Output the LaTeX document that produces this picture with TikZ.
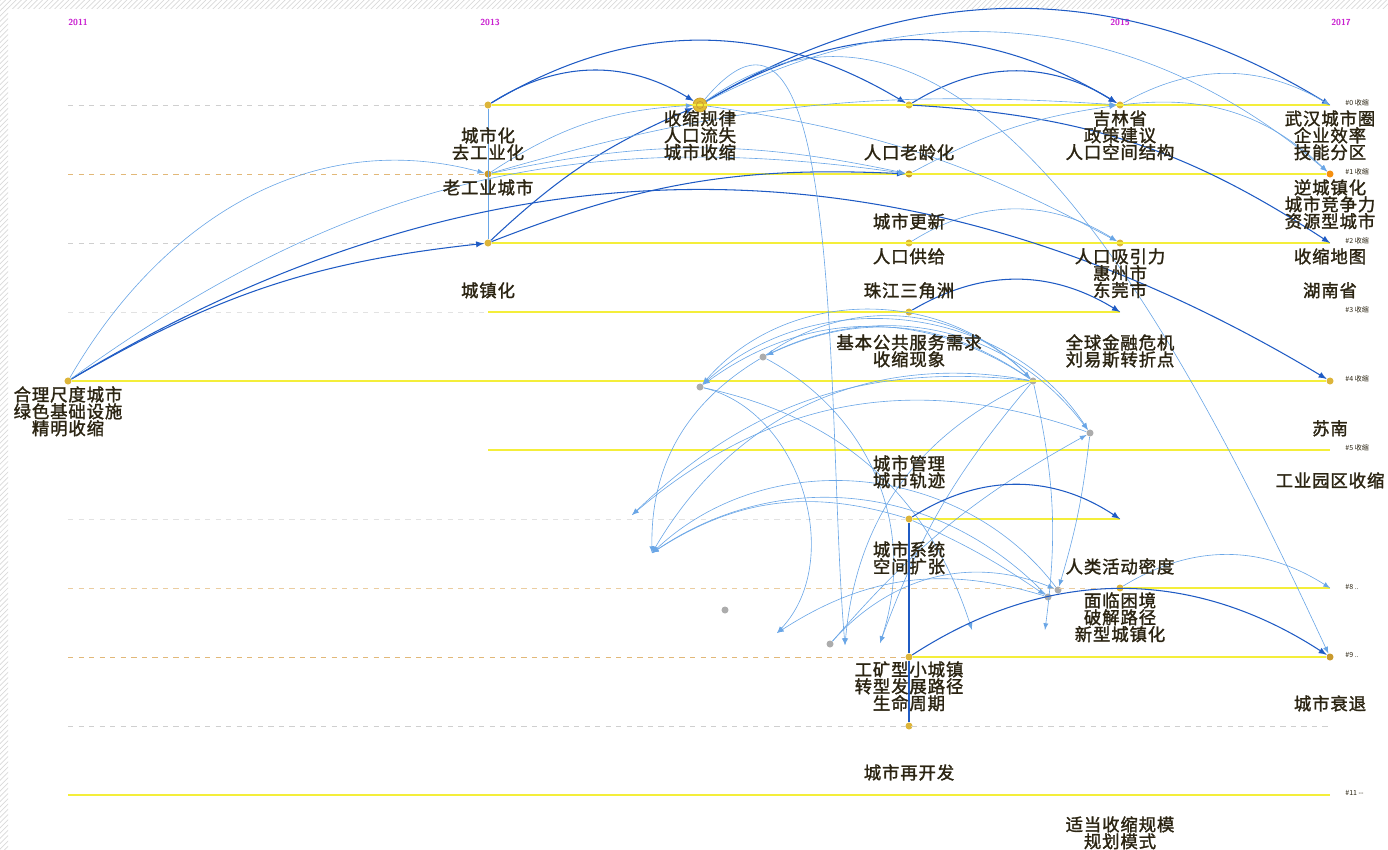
\documentclass[tikz,border=0pt]{standalone}
\usepackage{fontspec}
\newfontfamily\cjk[FakeBold=1.6,LetterSpace=5]{Noto Sans CJK SC}
\newfontfamily\cjktag{Noto Sans CJK SC}
\newcommand\labfont{\cjk\fontsize{9.9}{9.6}\selectfont\lineskiplimit=-20pt\relax}
\usetikzlibrary{patterns}
\definecolor{darkarc}{HTML}{1F5BC4}
\definecolor{lightarc}{HTML}{6AA6E6}
\definecolor{gold}{HTML}{DDB53A}
\definecolor{deepgold}{HTML}{C99A2E}
\definecolor{lineyel}{HTML}{F4EE3A}
\definecolor{txtbrown}{HTML}{2B2412}
\definecolor{yearmag}{HTML}{C81ECF}
\definecolor{dashgray}{HTML}{CFCFCF}
\definecolor{dashorange}{HTML}{E2B878}
\begin{document}
\begin{tikzpicture}[x=0.02cm,y=-0.02cm,>=latex,
    dot/.style={circle,fill=gold,inner sep=0pt,minimum size=4pt},
    gdot/.style={circle,fill=gray!65,inner sep=0pt,minimum size=4pt},
    bigdot/.style={circle,fill=gold!90!yellow,draw=deepgold,line width=0.4pt,inner sep=0pt,minimum size=8pt},
    lab/.style={font=\labfont,text=txtbrown,align=center,inner sep=0pt,anchor=north},
    year/.style={font=\sffamily\bfseries\fontsize{5}{6}\selectfont,text=yearmag,inner sep=0pt},
    clu/.style={font=\cjktag\fontsize{4}{5}\selectfont,text=txtbrown,inner sep=0pt,anchor=west},
    yl/.style={lineyel,line width=1.1pt},
    dg/.style={dashgray,dashed,line width=0.4pt},
    dor/.style={dashorange,dashed,line width=0.4pt},
    da/.style={darkarc,line width=0.6pt},
    la/.style={lightarc,line width=0.35pt}]

\useasboundingbox (0,0) rectangle (1388,849);

%% hatched border
\fill[pattern=north east lines,pattern color=gray!30] (0,0) rectangle (1388,8);
\fill[pattern=north east lines,pattern color=gray!30] (0,8) rectangle (8,849);

%% years
\node[year] (y11) at (78,22) {2011};
\node[year] (y13) at (490,22) {2013};
\node[year] (y15) at (1120,22) {2015};
\node[year] (y17) at (1341,22) {2017};

%% row ends
\foreach \r/\y in {0/105,1/174,2/243,3/312,4/381,5/450,6/519,7/588,8/657,9/726,10/795}{
    \coordinate (l\r) at (68,\y);
    \coordinate (r\r) at (1330,\y);
}
\coordinate (m3) at (488,312);
\coordinate (m5) at (488,450);

%% nodes
\node[dot] (n0b) at (488,105) {};
\node[bigdot] (n0c) at (700,105) {};
\node[dot] (n0d) at (909,105) {};
\node[dot] (n0e) at (1120,105) {};
\node[dot,fill=deepgold] (n1b) at (488,174) {};
\node[dot,fill=deepgold] (n1d) at (909,174) {};
\node[dot,fill=orange!70!gold] (n1f) at (1330,174) {};
\node[dot] (n2b) at (488,243) {};
\node[dot] (n2d) at (909,243) {};
\node[dot] (n2e) at (1120,243) {};
\node[dot] (n3d) at (909,312) {};
\coordinate (n3e) at (1120,312);
\node[dot] (n4a) at (68,381) {};
\node[dot] (n4f) at (1330,381) {};
\node[dot] (n6d) at (909,519) {};
\coordinate (n6e) at (1120,519);
\node[dot] (n7e) at (1120,588) {};
\node[dot] (n8d) at (909,657) {};
\node[dot,fill=deepgold] (n8f) at (1330,657) {};
\node[dot] (n9d) at (909,726) {};

\node[gdot] (g1) at (700,387) {};
\node[gdot] (g2) at (763,357) {};
\node[gdot] (g3) at (1033,381) {};
\node[gdot] (g4) at (1090,433) {};
\node[gdot] (g5) at (725,610) {};
\node[gdot] (g6) at (830,644) {};
\node[gdot] (g7) at (1048,597) {};
\node[gdot] (g8) at (1058,590) {};

\coordinate (t1) at (632,515);
\coordinate (t2) at (652,553);
\coordinate (t3) at (845,645);
\coordinate (t4) at (777,633);
\coordinate (t5) at (880,643);
\coordinate (t6) at (972,630);
\coordinate (t7) at (1045,630);

%% timeline rows
\draw[dg] (l0) -- (n0b);
\draw[yl] (n0b) -- (r0);
\draw[dor] (l1) -- (n1b);
\draw[yl] (n1b) -- (n1f);
\draw[dg] (l2) -- (n2b);
\draw[yl] (n2b) -- (r2);
\draw[dg,dashgray!60] (l3) -- (m3);
\draw[yl] (m3) -- (n3e);
\draw[yl] (n4a) -- (n4f);
\draw[yl] (m5) -- (r5);
\draw[dg,dashgray!60] (l6) -- (n6d);
\draw[yl] (n6d) -- (n6e);
\draw[dor,dashorange!70] (l7) -- (n7e);
\draw[yl] (n7e) -- (r7);
\draw[dor] (l8) -- (n8d);
\draw[yl] (n8d) -- (n8f);
\draw[dg] (l9) -- (r9);
\draw[lineyel,line width=0.6pt] (l10) -- (r10);
\draw[deepgold,line width=0.4pt] (n0c) circle (2pt);

%% cluster tags
\foreach \r/\y/\t in {0/103/\#0 收缩,1/172/\#1 收缩,2/241/\#2 收缩,3/310/\#3 收缩,4/379/\#4 收缩,5/448/\#5 收缩,7/587/\#8 ..,8/655/\#9 ..,10/793/\#11 --}
    \node[clu] (c\r) at (1345,\y) {\t};

%% top arcs
\draw[da,->] (n0b) to[bend left=32] (n0c);
\draw[da,->] (n0b) to[bend left=31] (n0d);
\draw[da,->] (n0c) to[bend left=31] (n0e);
\draw[da,->] (n0c) to[bend left=31] (r0);
\draw[la,->] (n0c) to[bend left=34] (n1f);
\draw[da,->] (n0d) to[bend left=32] (n0e);
\draw[la,->] (n0e) to[bend left=30] (r0);
\draw[la,->] (n0e) to[bend left=25] (n1f);
\draw[da,->] (n0d) to[bend left=15] (r2);
\draw[la] (n0b) -- (n2b);
\draw[la,->] (n1b) to[bend left=15] (n0c);
\draw[da,->] (n2b) to[bend left=10] (n0c);
\draw[da,->] (n2b) to[bend left=12] (n1d);
\draw[la,->] (n1b) to[bend left=12] (n1d);
\draw[la,->] (n1b) to[bend left=10] (n0e);
\draw[la,->] (n1d) to[bend left=10] (n0e);
\draw[la,->] (n0c) to[bend left=10] (n2e);
\draw[la,->] (n2d) to[bend left=32] (n2e);
\draw[da,->] (n3d) to[bend left=31] (n3e);

%% left arcs
\draw[da,->] (n4a) to[bend left=12] (n2b);
\draw[da,->] (n4a) to[bend left=31] (n4f);
\draw[la,->] (n4a) to[out=60,in=165] (n1b);
\draw[la,->] (n4a) to[bend left=22] (n1d);

%% long links
\draw[la,->] (n0c) to[out=35,in=115] (n8f);
\draw[la,->] (n0c) to[out=50,in=95] (t3);

%% middle cluster
\draw[la,->] (g3) to[bend right=35] (g1);
\draw[la,->] (g3) to[bend right=48] (g1);
\draw[la,->] (g3) to[bend right=30] (g2);
\draw[la,->] (g1) to[bend left=50] (g4);
\draw[la,->] (g2) to[bend left=40] (g4);
\draw[la,->] (g2) to[bend left=40] (g3);
\draw[la,->] (g3) to[bend right=25] (t1);
\draw[la,->] (g3) to[bend right=35] (t2);
\draw[la,->] (g4) to[bend right=30] (t1);
\draw[la,->] (g1) to[bend left=60] (t4);
\draw[la,->] (g2) to[bend left=40] (t5);
\draw[la,->] (g1) to[bend left=30] (t6);
\draw[la,->] (g3) to[bend left=10] (t7);
\draw[la,->] (g3) to[bend right=30] (t3);
\draw[la,->] (g3) to[bend right=10] (t5);
\draw[la,->] (g7) to[bend right=40] (t2);
\draw[la,->] (g8) to[bend right=48] (t2);
\draw[la,->] (g7) to[bend right=25] (t4);
\draw[la,->] (g2) to[bend right=30] (t2);
\draw[la,->] (g6) to[bend left=10] (g4);
\draw[la,->] (g6) to[bend left=35] (g8);
\draw[la,->] (g4) to[bend left=5] (g8);
\draw[la,->] (n6d) to[bend left=5] (g7);
\draw[la,->] (n6d) to[bend right=25] (t2);

%% lower rows
\draw[da] (n6d) -- (n8d);
\draw[da] (n8d) -- (n9d);
\draw[da,->] (n6d) to[bend left=33] (n6e);
\draw[la,->] (n7e) to[bend left=32] (r7);
\draw[da,->] (n8d) to[bend left=33] (n8f);

%% labels
\node[lab] (lb0b) at (488,127) {城市化\\去工业化};
\node[lab] (lb0c) at (700,110) {收缩规律\\人口流失\\城市收缩};
\node[lab] (lb0d) at (909,144) {人口老龄化};
\node[lab] (lb0e) at (1120,110) {吉林省\\政策建议\\人口空间结构};
\node[lab] (lb0f) at (1330,110) {武汉城市圈\\企业效率\\技能分区};
\node[lab] (lb1b) at (488,179) {老工业城市};
\node[lab] (lb1f) at (1330,179) {逆城镇化\\城市竞争力\\资源型城市};
\node[lab] (lb1d) at (909,213) {城市更新};
\node[lab] (lb2d) at (909,248) {人口供给};
\node[lab] (lb2e) at (1120,248) {人口吸引力\\惠州市\\东莞市};
\node[lab] (lb2f) at (1330,248) {收缩地图};
\node[lab] (lb2b) at (488,282) {城镇化};
\node[lab] (lb3d) at (909,282) {珠江三角洲};
\node[lab] (lb3f) at (1330,282) {湖南省};
\node[lab] (lb4d) at (909,334) {基本公共服务需求\\收缩现象};
\node[lab] (lb4e) at (1120,334) {全球金融危机\\刘易斯转折点};
\node[lab] (lb4a) at (68,386) {合理尺度城市\\绿色基础设施\\精明收缩};
\node[lab] (lb4f) at (1330,420) {苏南};
\node[lab] (lb5d) at (909,455) {城市管理\\城市轨迹};
\node[lab] (lb5f) at (1330,472) {工业园区收缩};
\node[lab] (lb6d) at (909,541) {城市系统\\空间扩张};
\node[lab] (lb7e) at (1120,558) {人类活动密度};
\node[lab] (lb7g) at (1120,592) {面临困境\\破解路径\\新型城镇化};
\node[lab] (lb8d) at (909,661) {工矿型小城镇\\转型发展路径\\生命周期};
\node[lab] (lb8f) at (1330,695) {城市衰退};
\node[lab] (lb9d) at (909,764) {城市再开发};
\node[lab] (lb10e) at (1120,816) {适当收缩规模\\规划模式};

\end{tikzpicture}
\end{document}
